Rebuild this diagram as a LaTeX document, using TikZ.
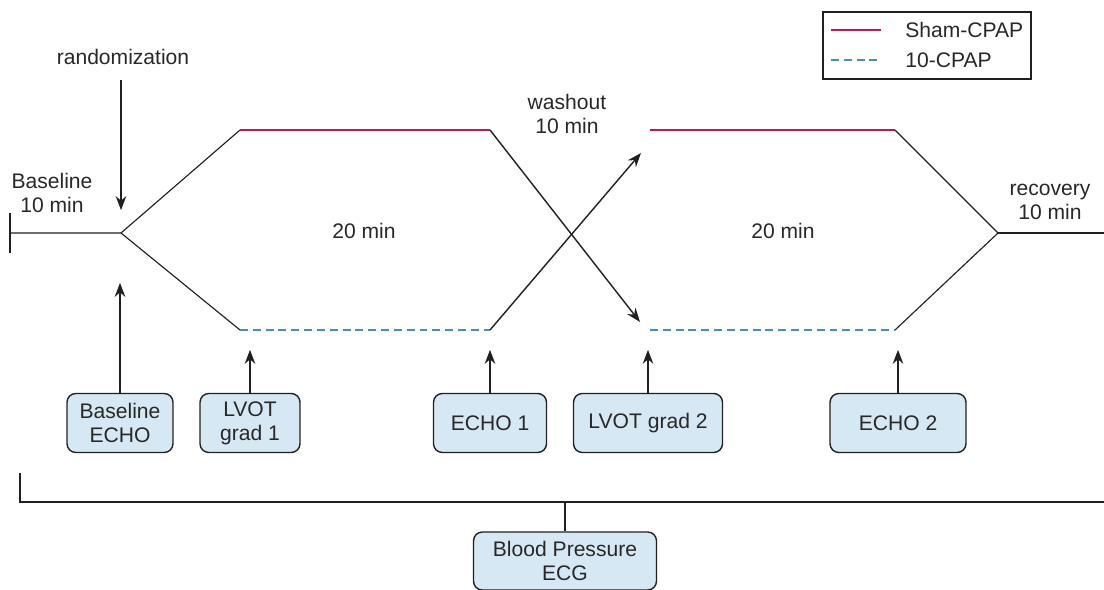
\documentclass[tikz,border=0pt]{standalone}
\usepackage{fontspec}
\setmainfont{Liberation Sans}
\usetikzlibrary{arrows.meta,positioning}
\definecolor{shamred}{RGB}{196,22,86}
\definecolor{cpapblue}{RGB}{74,140,186}
\definecolor{boxblue}{RGB}{214,232,244}
\definecolor{linegray}{RGB}{35,31,32}
\definecolor{txtgray}{RGB}{40,40,40}

\begin{document}
\begin{tikzpicture}[x=0.02cm, y=-0.02cm,
  font=\fontsize{12}{13.6}\selectfont,
  every node/.style={text=txtgray},
  lbl/.style={align=center, inner sep=1pt},
  mbox/.style={draw=linegray, fill=boxblue, rounded corners=5pt, align=center, minimum height=1.18cm, line width=0.8pt},
  arr/.style={-{Stealth[length=8pt,width=6pt]}, linegray, line width=0.8pt},
  arm/.style={linegray, line width=0.65pt},
  sham/.style={shamred, line width=1.3pt},
  cpap/.style={cpapblue, line width=1.3pt, dash pattern=on 4.5pt off 2.8pt}]
  \useasboundingbox (0,0) rectangle (1104,590);

  % time line
  \coordinate (b0) at (10,233);
  \coordinate (split) at (121,233);
  \coordinate (s1) at (240,130);
  \coordinate (t1) at (240,330);
  \coordinate (s1e) at (490,130);
  \coordinate (t1e) at (490,330);
  \coordinate (s2) at (650,130);
  \coordinate (t2) at (650,330);
  \coordinate (s2e) at (895,130);
  \coordinate (t2e) at (895,330);
  \coordinate (merge) at (998,233);
  \coordinate (rend) at (1104,233);
  \coordinate (downtip) at (640,322);
  \coordinate (uptip) at (641,153);

  \draw[arm] (10,213) -- (10,253);
  \draw[arm] (b0) -- (split) -- (s1);
  \draw[arm] (split) -- (t1);
  \draw[sham] (s1) -- (s1e);
  \draw[cpap] (t1) -- (t1e);
  \draw[arr] (s1e) -- (downtip);
  \draw[arr] (t1e) -- (uptip);
  \draw[sham] (s2) -- (s2e);
  \draw[cpap] (t2) -- (t2e);
  \draw[arm] (s2e) -- (merge) -- (t2e);
  \draw[arm] (merge) -- (rend);

  % labels
  \node[lbl] (rand) at (123,57) {randomization};
  \draw[arr, shorten >=13pt] (121,80) -- (split);
  \node[lbl] (base) at (52,193) {Baseline\\10 min};
  \node[lbl] (wash) at (567,114) {washout\\10 min};
  \node[lbl] (recov) at (1050,202) {recovery\\10 min};
  \node[lbl] (p1) at (364,231) {20 min};
  \node[lbl] (p2) at (783,231) {20 min};

  % legend
  \node[draw=linegray, line width=0.8pt, minimum width=4.16cm, minimum height=1.34cm] (legend) at (927,45.5) {};
  \draw[sham] (831,30) -- (881,30);
  \draw[cpap] (831,60) -- (881,60);
  \node[anchor=west, inner sep=0pt] (lsham) at (905,30) {Sham-CPAP};
  \node[anchor=west, inner sep=0pt] (lcpap) at (905,60) {10-CPAP};

  % measurements
  \node[mbox, minimum width=2.12cm] (bech) at (120,423) {Baseline\\ECHO};
  \node[mbox, minimum width=2.0cm] (lvot1) at (250,423) {LVOT\\grad 1};
  \node[mbox, minimum width=2.26cm] (echo1) at (490,423) {ECHO 1};
  \node[mbox, minimum width=2.98cm] (lvot2) at (648,423) {LVOT grad 2};
  \node[mbox, minimum width=2.72cm] (echo2) at (898,423) {ECHO 2};
  \draw[arr] (bech.north) -- ++(0,-110);
  \draw[arr] (lvot1.north) -- ++(0,-43);
  \draw[arr] (echo1.north) -- ++(0,-43);
  \draw[arr] (lvot2.north) -- ++(0,-43);
  \draw[arr] (echo2.north) -- ++(0,-43);

  % continuous monitoring
  \coordinate (brl) at (20,473);
  \coordinate (brc) at (20,502);
  \coordinate (brr) at (1104,502);
  \draw[linegray, line width=1.2pt] (brl) -- (brc) -- (brr);
  \node[mbox, minimum width=3.66cm, minimum height=1.16cm] (bp) at (565,561) {Blood Pressure\\ECG};
  \draw[arm] (bp.north) -- (bp.north |- brc);
\end{tikzpicture}
\end{document}
